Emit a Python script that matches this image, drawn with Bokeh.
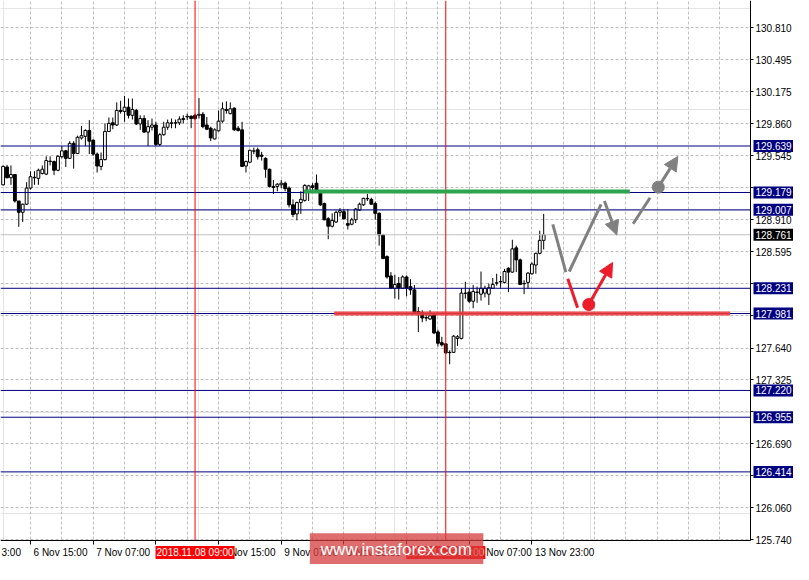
import pandas as pd
from bokeh.plotting import figure
from bokeh.models import FixedTicker, Label, Arrow, NormalHead, LinearAxis, Grid
from bokeh.embed import file_html
from bokeh.resources import INLINE

# ---------------- data (USD/JPY H1 candles) ----------------
open_ = [129.255, 129.431, 129.325, 129.357, 129.095, 128.983, 129.063, 129.223, 129.329, 129.319,
         129.367, 129.361, 129.489, 129.485, 129.399, 129.533, 129.591, 129.517, 129.665, 129.565,
         129.719, 129.735, 129.793, 129.697, 129.559, 129.437, 129.505, 129.783, 129.869, 129.847,
         129.991, 129.981, 130.023, 129.943, 129.991, 129.857, 129.911, 129.777, 129.825, 129.847,
         129.655, 129.751, 129.825, 129.863, 129.866, 129.869, 129.901, 129.927, 129.933, 129.943,
         129.943, 129.953, 129.847, 129.815, 129.709, 129.789, 129.885, 130.001, 129.959, 130.013,
         129.815, 129.799, 129.441, 129.479, 129.588, 129.601, 129.549, 129.517, 129.409, 129.239,
         129.239, 129.255, 129.271, 129.223, 129.057, 128.967, 129.079, 129.101, 129.197, 129.245,
         129.271, 129.185, 129.069, 128.919, 128.845, 128.887, 128.983, 128.989, 128.871, 128.865,
         128.909, 129.005, 129.057, 129.117, 129.111, 129.069, 128.973, 128.759, 128.545, 128.353,
         128.231, 128.279, 128.231, 128.343, 128.247, 128.215, 128.001, 127.991, 127.940, 127.927,
         127.969, 127.799, 127.693, 127.681, 127.597, 127.597, 127.735, 127.735, 128.180, 128.193,
         128.103, 128.190, 128.173, 128.183, 128.173, 128.231, 128.282, 128.298, 128.289, 128.429,
         128.391, 128.631, 128.512, 128.279, 128.289, 128.375, 128.461, 128.577, 128.705]
high = [129.447, 129.453, 129.447, 129.357, 129.095, 129.069, 129.281, 129.389, 129.389, 129.415,
        129.447, 129.537, 129.537, 129.495, 129.549, 129.639, 129.601, 129.687, 129.687, 129.741,
        129.837, 129.805, 129.895, 129.703, 129.575, 129.575, 129.863, 129.921, 129.921, 130.071,
        130.087, 130.135, 130.109, 130.109, 130.007, 129.943, 129.943, 129.895, 129.911, 129.879,
        129.767, 129.879, 129.901, 129.911, 129.901, 129.933, 129.943, 129.959, 129.943, 129.959,
        130.113, 129.975, 129.927, 129.831, 129.815, 129.991, 130.071, 130.081, 130.071, 130.023,
        129.837, 129.879, 129.495, 129.601, 129.623, 129.623, 129.581, 129.527, 129.415, 129.303,
        129.271, 129.303, 129.287, 129.239, 129.111, 129.089, 129.191, 129.261, 129.255, 129.271,
        129.357, 129.197, 129.079, 128.935, 128.973, 128.999, 129.025, 129.015, 129.015, 128.929,
        129.025, 129.079, 129.127, 129.165, 129.127, 129.089, 128.983, 128.769, 128.557, 128.391,
        128.365, 128.343, 128.359, 128.359, 128.321, 128.263, 128.045, 128.013, 127.975, 128.013,
        127.975, 127.821, 127.751, 127.687, 127.617, 127.767, 127.767, 128.231, 128.295, 128.231,
        128.263, 128.247, 128.397, 128.257, 128.279, 128.333, 128.375, 128.353, 128.423, 128.439,
        128.711, 128.653, 128.525, 128.311, 128.391, 128.487, 128.583, 128.801, 128.967]
low = [129.249, 129.319, 129.255, 129.079, 128.839, 128.887, 129.057, 129.207, 129.255, 129.255,
       129.357, 129.351, 129.447, 129.351, 129.389, 129.517, 129.431, 129.511, 129.415, 129.559,
       129.703, 129.639, 129.559, 129.543, 129.377, 129.399, 129.495, 129.783, 129.805, 129.837,
       129.959, 129.879, 129.911, 129.901, 129.847, 129.799, 129.767, 129.639, 129.793, 129.639,
       129.639, 129.741, 129.799, 129.815, 129.815, 129.847, 129.863, 129.895, 129.815, 129.895,
       129.911, 129.815, 129.799, 129.687, 129.703, 129.783, 129.869, 129.959, 129.953, 129.789,
       129.783, 129.431, 129.377, 129.473, 129.559, 129.505, 129.495, 129.325, 129.229, 129.165,
       129.191, 129.223, 129.191, 129.031, 128.935, 128.903, 128.967, 129.089, 129.095, 129.185,
       129.185, 129.047, 128.903, 128.717, 128.833, 128.877, 128.941, 128.909, 128.813, 128.855,
       128.877, 128.999, 129.047, 129.095, 129.057, 128.909, 128.653, 128.519, 128.327, 128.225,
       128.129, 128.119, 128.225, 128.151, 128.167, 127.981, 127.799, 127.895, 127.905, 127.917,
       127.777, 127.655, 127.655, 127.585, 127.479, 127.591, 127.661, 127.725, 128.129, 128.087,
       128.033, 128.087, 128.109, 128.141, 128.065, 128.225, 128.257, 128.237, 128.279, 128.193,
       128.385, 128.391, 128.263, 128.173, 128.225, 128.365, 128.375, 128.567, 128.615]
close = [129.437, 129.325, 129.357, 129.095, 128.983, 129.063, 129.223, 129.335, 129.325, 129.399,
         129.409, 129.495, 129.485, 129.399, 129.537, 129.591, 129.517, 129.665, 129.565, 129.725,
         129.741, 129.793, 129.687, 129.559, 129.441, 129.505, 129.783, 129.863, 129.847, 129.991,
         129.981, 130.023, 129.943, 130.001, 129.857, 129.911, 129.777, 129.831, 129.847, 129.655,
         129.751, 129.825, 129.869, 129.869, 129.869, 129.905, 129.911, 129.933, 129.911, 129.911,
         129.953, 129.831, 129.805, 129.719, 129.799, 129.885, 130.007, 129.991, 130.007, 129.799,
         129.793, 129.437, 129.485, 129.597, 129.591, 129.533, 129.537, 129.409, 129.239, 129.229,
         129.261, 129.271, 129.217, 129.057, 128.961, 129.079, 129.111, 129.249, 129.245, 129.229,
         129.197, 129.057, 128.909, 128.845, 128.903, 128.983, 128.999, 128.919, 128.855, 128.909,
         129.015, 129.063, 129.121, 129.121, 129.063, 128.973, 128.759, 128.525, 128.343, 128.231,
         128.269, 128.231, 128.343, 128.231, 128.215, 127.991, 127.991, 127.937, 127.937, 127.959,
         127.789, 127.687, 127.671, 127.591, 127.594, 127.757, 127.751, 128.183, 128.183, 128.103,
         128.199, 128.193, 128.231, 128.231, 128.237, 128.269, 128.285, 128.295, 128.397, 128.391,
         128.621, 128.512, 128.269, 128.276, 128.381, 128.471, 128.577, 128.705, 128.761]

first_candle_time = "2018-11-06 08:00"
axis_start_time = "2018-11-05 23:00"
time_labels = ["2018-11-05 23:00", "2018-11-06 15:00", "2018-11-07 07:00", "2018-11-07 23:00",
               "2018-11-08 15:00", "2018-11-09 07:00", "2018-11-09 23:00", "2018-11-12 15:00",
               "2018-11-13 07:00", "2018-11-13 23:00"]
covered_time_labels = ["2018-11-07 23:00", "2018-11-12 15:00"]
edge_time_label = "2018-11-05 23:00"      # only its tail "3:00" is visible at the left edge
marked_times = ["2018-11-08 09:00", "2018-11-13 01:00"]

price_ticks = [130.810, 130.495, 130.175, 129.860, 129.545, 129.225, 128.910, 128.595, 128.275,
               127.960, 127.640, 127.325, 127.010, 126.690, 126.375, 126.060, 125.740]
covered_price_ticks = [129.225, 128.275, 127.960, 127.010, 126.375]
levels = [129.639, 129.179, 129.007, 128.231, 127.981, 127.220, 126.955, 126.414]
last_price = 128.761

# drawn objects (bar position, price)
green_line = dict(x0=76.8, x1=160.0, y=129.19)
red_line = dict(x0=84.5, x1=185.6, y=127.981)
gray_path_x0 = [140.33, 144.51]
gray_path_y0 = [128.864, 128.397]
gray_path_x1 = [143.66, 152.66]
gray_path_y1 = [128.390, 129.062]
gray_arrow = dict(x0=153.51, y0=129.094, x1=156.66, y1=128.758)
gray_dash = dict(x0=160.83, y0=128.870, x1=165.16, y1=129.127)
gray_dot = dict(x=167.26, y=129.232)
gray_arrow2 = dict(x1=172.26, y1=129.536)
red_path = dict(x0=144.16, y0=128.326, x1=146.66, y1=128.038)
red_dot = dict(x=149.51, y=128.070)
red_arrow = dict(x1=155.58, y1=128.486)
watermark = dict(text="www.instaforex.com", left=78.3, right=122.6, top=125.807, cx=100.4)

# ---------------- layout ----------------
W, H = 793, 564
RIGHT_PANEL, BOTTOM_PANEL = 43, 24
CHART_W, CHART_H = W - RIGHT_PANEL, H - BOTTOM_PANEL
X_START, CHART_X_END = -0.67, 190.8
Y_CHART_START, Y_END = 125.735, 131.079
X_END = CHART_X_END + RIGHT_PANEL * (CHART_X_END - X_START) / CHART_W
Y_START = Y_CHART_START - BOTTOM_PANEL * (Y_END - Y_CHART_START) / CHART_H

# ---------------- build ----------------
times = pd.date_range(axis_start_time, "2018-11-23 23:00", freq="h")
times = times[times.dayofweek < 5]
pos = {t: k for k, t in enumerate(times)}
base = pos[pd.Timestamp(first_candle_time)]


def bar_of(ts):
    return pos[pd.Timestamp(ts)] - base


def mt_label(ts):
    ts = pd.Timestamp(ts)
    return f"{ts.day} {ts.strftime('%b %H:%M')}"


n = len(close)
xs = list(range(n))
tops = [max(o, c) for o, c in zip(open_, close)]
bots = [min(o, c) for o, c in zip(open_, close)]
fills = ["white" if c >= o else "black" for o, c in zip(open_, close)]

p = figure(width=W, height=H, x_range=(X_START, X_END), y_range=(Y_START, Y_END),
           x_axis_location=None, y_axis_location=None, output_backend="svg",
           toolbar_location=None, min_border=0, outline_line_color=None,
           background_fill_color="white", border_fill_color="white")

FONT = "Liberation Sans"

# grid
grid_bars = [k - base for k in range(len(times)) if k % 8 == 0 and X_START < k - base < CHART_X_END]
xgrid = Grid(dimension=0, ticker=FixedTicker(ticks=grid_bars))
ygrid = Grid(dimension=1, ticker=FixedTicker(ticks=price_ticks))
for g in (xgrid, ygrid):
    g.grid_line_color = "#c0c0c0"
    g.grid_line_dash = "3 2"
    p.add_layout(g)

# blank the axis strips
p.quad(left=[CHART_X_END, X_START], right=[X_END, X_END], bottom=[Y_START, Y_START],
       top=[Y_END, Y_CHART_START], fill_color="white", line_color=None)

# axes
yaxis = LinearAxis(fixed_location=CHART_X_END, bounds=(Y_CHART_START, Y_END),
                   ticker=FixedTicker(ticks=price_ticks))
yaxis.major_label_overrides = {t: ("" if t in covered_price_ticks else f"{t:.3f}") for t in price_ticks}
yaxis.major_label_text_font = FONT
yaxis.major_label_text_font_size = "10px"
yaxis.major_label_text_color = "black"
yaxis.major_tick_out = 3
yaxis.major_tick_in = 0
yaxis.minor_tick_line_color = None
yaxis.major_label_standoff = 2
yaxis.axis_line_color = "black"
p.add_layout(yaxis, "right")

label_bars = [bar_of(t) for t in time_labels]
xaxis = LinearAxis(fixed_location=Y_CHART_START, bounds=(X_START, CHART_X_END),
                   ticker=FixedTicker(ticks=[b for b in label_bars if b > X_START]))
xaxis.major_label_overrides = {b: "" for b in label_bars}
xaxis.major_tick_out = 4
xaxis.major_tick_in = 0
xaxis.minor_tick_line_color = None
xaxis.axis_line_color = "black"
p.add_layout(xaxis, "below")

# time labels, left-aligned at their tick (MetaTrader style)
for t in time_labels:
    if t in covered_time_labels:
        continue
    if t == edge_time_label:
        # the label starts left of the window: only its tail shows
        p.add_layout(Label(x=X_START, y=Y_CHART_START, x_offset=1, y_offset=-12,
                           text=mt_label(t)[-4:], text_align="left", text_baseline="middle",
                           text_color="black", text_font=FONT, text_font_size="10px"))
        continue
    p.add_layout(Label(x=bar_of(t), y=Y_CHART_START, x_offset=3, y_offset=-12,
                       text=mt_label(t), text_align="left",
                       text_baseline="middle", text_color="black", text_font=FONT,
                       text_font_size="10px"))

# candles
p.segment(x0=xs, y0=low, x1=xs, y1=high, line_color="black", line_width=1)
p.vbar(x=xs, width=0.72, top=tops, bottom=bots, fill_color=fills, line_color="black", line_width=1)

# horizontal levels and current price
p.segment(x0=[X_START] * len(levels), y0=levels, x1=[CHART_X_END] * len(levels), y1=levels,
          line_color="#000080", line_width=1)
p.segment(x0=[X_START], y0=[last_price], x1=[CHART_X_END], y1=[last_price],
          line_color="#c0c0c0", line_width=1)
# time markers
mx = [bar_of(t) for t in marked_times]
p.segment(x0=mx, y0=[Y_CHART_START] * len(mx), x1=mx, y1=[Y_END] * len(mx),
          line_color="#ff0000", line_width=1)

# support / resistance
p.segment(x0=[green_line["x0"]], y0=[green_line["y"]], x1=[green_line["x1"]], y1=[green_line["y"]],
          line_color="#2ea44f", line_width=4)
p.segment(x0=[red_line["x0"]], y0=[red_line["y"]], x1=[red_line["x1"]], y1=[red_line["y"]],
          line_color="#ee3b3b", line_width=4, line_alpha=0.9)

GRAY = "#808080"
RED = "#ee1c2a"
p.segment(x0=gray_path_x0, y0=gray_path_y0, x1=gray_path_x1, y1=gray_path_y1,
          line_color=GRAY, line_width=3)
p.segment(x0=[gray_dash["x0"]], y0=[gray_dash["y0"]], x1=[gray_dash["x1"]], y1=[gray_dash["y1"]],
          line_color=GRAY, line_width=3)
p.segment(x0=[red_path["x0"]], y0=[red_path["y0"]], x1=[red_path["x1"]], y1=[red_path["y1"]],
          line_color=RED, line_width=3)
p.add_layout(Arrow(end=NormalHead(size=14, fill_color=GRAY, line_color=GRAY),
                   x_start=gray_arrow["x0"], y_start=gray_arrow["y0"],
                   x_end=gray_arrow["x1"], y_end=gray_arrow["y1"], line_color=GRAY, line_width=3))
p.add_layout(Arrow(end=NormalHead(size=14, fill_color=GRAY, line_color=GRAY),
                   x_start=gray_dot["x"], y_start=gray_dot["y"],
                   x_end=gray_arrow2["x1"], y_end=gray_arrow2["y1"], line_color=GRAY, line_width=3))
p.add_layout(Arrow(end=NormalHead(size=14, fill_color=RED, line_color=RED),
                   x_start=red_dot["x"], y_start=red_dot["y"],
                   x_end=red_arrow["x1"], y_end=red_arrow["y1"], line_color=RED, line_width=3))
p.scatter(x=[gray_dot["x"]], y=[gray_dot["y"]], size=12, color=GRAY)
p.scatter(x=[red_dot["x"]], y=[red_dot["y"]], size=12, color=RED)

# price boxes on the right axis
for lv in levels:
    p.add_layout(Label(x=CHART_X_END, y=lv, x_offset=3, text=f"{lv:.3f}", text_align="left",
                       text_baseline="middle", text_color="white", text_font=FONT,
                       text_font_size="10px", background_fill_color="#000080", padding=2))
p.add_layout(Label(x=CHART_X_END, y=last_price, x_offset=3, text=f"{last_price:.3f}", text_align="left",
                   text_baseline="middle", text_color="white", text_font=FONT,
                   text_font_size="10px", background_fill_color="black", padding=2))

# red date boxes on the time axis
for t in marked_times:
    ts = pd.Timestamp(t)
    p.add_layout(Label(x=bar_of(t), y=Y_CHART_START, y_offset=-12, text=ts.strftime("%Y.%m.%d %H:%M"),
                       text_align="center", text_baseline="middle", text_color="white",
                       text_font=FONT, text_font_size="10px", background_fill_color="#ff0000",
                       padding=1))

# watermark (box + text), on top of everything
p.quad(left=[watermark["left"]], right=[watermark["right"]], bottom=[Y_START], top=[watermark["top"]],
       fill_color="#d63c3c", fill_alpha=0.75, line_color=None, level="overlay")
p.add_layout(Label(x=watermark["cx"], y=Y_CHART_START, y_offset=-9, text=watermark["text"],
                   text_align="center", text_baseline="middle", text_color="white", text_font=FONT,
                   text_font_size="17px", level="overlay"))

open("out.html", "w").write(file_html(p, INLINE))
